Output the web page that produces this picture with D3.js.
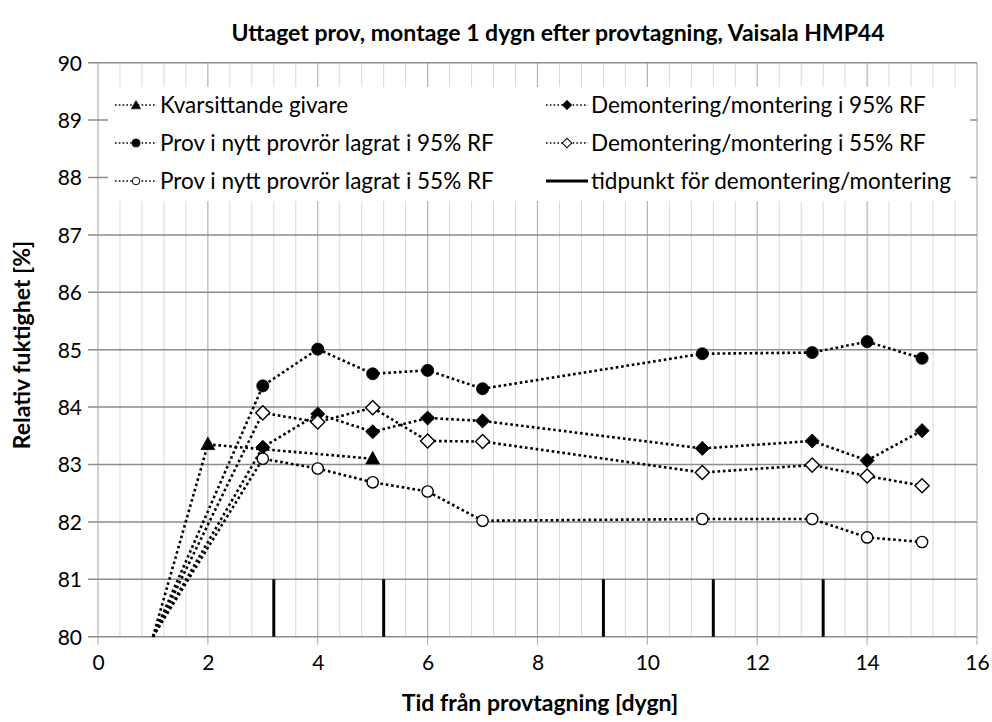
<!DOCTYPE html>
<html>
<head>
<meta charset="utf-8">
<script src="https://cdn.jsdelivr.net/npm/d3@7"></script>
<style>
  html, body { margin: 0; padding: 0; background: #fff; }
  svg { display: block; }
  text { font-family: Lato, "Open Sans", "DejaVu Sans", sans-serif; fill: #000; }
</style>
</head>
<body>
<svg id="chart" width="992" height="722"></svg>
<script>
// Relative humidity readings per day after sampling (dygn)
const kvarsittandeDays = [1, 2, 5];
const kvarsittandeRH   = [80, 83.35, 83.1];

const sampleDays = [1, 3, 4, 5, 6, 7, 11, 13, 14, 15];
const demont95RH = [80, 83.30, 83.88, 83.57, 83.81, 83.76, 83.28, 83.41, 83.07, 83.59];
const prov95RH   = [80, 84.37, 85.01, 84.58, 84.64, 84.32, 84.93, 84.95, 85.14, 84.85];
const demont55RH = [80, 83.90, 83.74, 83.99, 83.41, 83.40, 82.86, 82.99, 82.80, 82.63];
const prov55RH   = [80, 83.10, 82.93, 82.69, 82.53, 82.02, 82.05, 82.05, 81.73, 81.65];

// Times of removal / remounting, drawn as short bars between these RH levels
const remountDays = [3.2, 5.2, 9.2, 11.2, 13.2];
const remountFrom = 80;
const remountTo = 81;

const xTicks = [0, 2, 4, 6, 8, 10, 12, 14, 16];
const yTicks = [80, 81, 82, 83, 84, 85, 86, 87, 88, 89, 90];

const titleText = "Uttaget prov, montage 1 dygn efter provtagning, Vaisala HMP44";
const xTitle = "Tid från provtagning [dygn]";
const yTitle = "Relativ fuktighet [%]";

const svg = d3.select("#chart");
const x = d3.scaleLinear().domain([0, 16]).range([98, 977]);
const y = d3.scaleLinear().domain([80, 90]).range([636.7, 62.7]);

// Grid
const grid = svg.append("g");
grid.selectAll("line.minor").data(d3.range(0, 16.001, 0.4).filter(v => Math.abs(v / 2 - Math.round(v / 2)) > 1e-6))
  .join("line")
  .attr("x1", d => x(d)).attr("x2", d => x(d))
  .attr("y1", y(80)).attr("y2", y(90))
  .attr("stroke", "#d9d9d9").attr("stroke-width", 1);
grid.selectAll("line.vmajor").data(xTicks)
  .join("line")
  .attr("x1", d => x(d)).attr("x2", d => x(d))
  .attr("y1", y(90)).attr("y2", y(80) + 8)
  .attr("stroke", "#b3b3b3").attr("stroke-width", 1.2);
grid.selectAll("line.hmajor").data(yTicks)
  .join("line")
  .attr("x1", x(0) - 10).attr("x2", x(16))
  .attr("y1", d => y(d)).attr("y2", d => y(d))
  .attr("stroke", "#8c8c8c").attr("stroke-width", 1.5);

// Axis labels via d3 axes (lines hidden, grid drawn above)
const yAxis = svg.append("g")
  .attr("transform", `translate(${x(0) - 16},0)`)
  .call(d3.axisLeft(y).tickValues(yTicks).tickSize(0).tickPadding(0));
yAxis.select(".domain").remove();
yAxis.selectAll("text").attr("font-size", 21).attr("font-family", "Lato").attr("fill", "#000").attr("dy", "0.35em");

const xAxis = svg.append("g")
  .attr("transform", `translate(0,${y(80) + 16})`)
  .call(d3.axisBottom(x).tickValues(xTicks).tickSize(0).tickPadding(0));
xAxis.select(".domain").remove();
xAxis.selectAll("text").attr("font-size", 21).attr("font-family", "Lato").attr("fill", "#000").attr("dy", "0.8em");

// Series
const series = [
  { name: "Kvarsittande givare", days: kvarsittandeDays, vals: kvarsittandeRH, shape: "triangle", fill: "#000" },
  { name: "Demontering/montering i 95% RF", days: sampleDays, vals: demont95RH, shape: "diamond", fill: "#000" },
  { name: "Prov i nytt provrör lagrat i 95% RF", days: sampleDays, vals: prov95RH, shape: "circle", fill: "#000" },
  { name: "Demontering/montering i 55% RF", days: sampleDays, vals: demont55RH, shape: "diamond", fill: "#fff" },
  { name: "Prov i nytt provrör lagrat i 55% RF", days: sampleDays, vals: prov55RH, shape: "circle", fill: "#fff" }
];

function drawMarker(g, s, scale) {
  let path;
  if (s.shape === "circle") path = d3.symbol(d3.symbolCircle, (s.fill === "#000" ? 115 : 100) * scale)();
  else if (s.shape === "triangle") path = d3.symbol(d3.symbolTriangle, 82 * scale)();
  else path = d3.symbol(d3.symbolSquare, 100 * scale)();
  const p = g.append("path").attr("d", path)
    .attr("fill", s.fill)
    .attr("stroke", "#000")
    .attr("stroke-width", s.fill === "#fff" ? 1.4 : 0.8);
  if (s.shape === "diamond") p.attr("transform", "rotate(45)");
  if (s.shape === "triangle") p.attr("transform", "translate(0,1) scale(1,1.05)");
  return p;
}

const line = d3.line().x(d => x(d[0])).y(d => y(d[1]));
const plot = svg.append("g");
series.forEach(s => {
  const pts = s.days.map((d, i) => [d, s.vals[i]]);
  plot.append("path").datum(pts)
    .attr("d", line)
    .attr("fill", "none")
    .attr("stroke", "#000")
    .attr("stroke-width", 2.6)
    .attr("stroke-dasharray", "2.6 2.8");
});
series.forEach(s => {
  // the day-1 anchor sits on the axis floor and carries no marker
  const pts = s.days.map((d, i) => [d, s.vals[i]]).filter(p => p[1] > 80);
  pts.forEach(p => {
    const g = plot.append("g").attr("transform", `translate(${x(p[0])},${y(p[1])})`);
    drawMarker(g, s, 1);
  });
});

// Removal / remount bars
plot.selectAll("line.remount").data(remountDays)
  .join("line")
  .attr("x1", d => x(d)).attr("x2", d => x(d))
  .attr("y1", y(remountFrom)).attr("y2", y(remountTo))
  .attr("stroke", "#000").attr("stroke-width", 3);

// Legend
const legend = svg.append("g");
legend.append("rect").attr("x", 108).attr("y", 87).attr("width", 862).attr("height", 114).attr("fill", "#fff");
const legendItems = [
  { s: series[0], col: 0, row: 0 },
  { s: series[2], col: 0, row: 1 },
  { s: series[4], col: 0, row: 2 },
  { s: series[1], col: 1, row: 0 },
  { s: series[3], col: 1, row: 1 },
  { s: { name: "tidpunkt för demontering/montering", shape: "bar" }, col: 1, row: 2 }
];
const colX = [160, 591];
const rowY = [105, 143, 181];
legendItems.forEach(it => {
  const tx = colX[it.col], ty = rowY[it.row];
  const g = legend.append("g");
  if (it.s.shape === "bar") {
    g.append("line").attr("x1", tx - 45).attr("x2", tx - 3).attr("y1", ty).attr("y2", ty)
      .attr("stroke", "#000").attr("stroke-width", 3);
  } else {
    g.append("line").attr("x1", tx - 45).attr("x2", tx - 3).attr("y1", ty).attr("y2", ty)
      .attr("stroke", "#000").attr("stroke-width", 1.6).attr("stroke-dasharray", "1.6 2.2");
    const mg = g.append("g").attr("transform", `translate(${tx - 24},${ty})`);
    drawMarker(mg, it.s, 0.45).attr("stroke-width", it.s.fill === "#fff" ? 1 : 0.6);
  }
  g.append("text").attr("x", tx).attr("y", ty).attr("dy", "0.35em")
    .attr("font-size", 22.5).text(it.s.name);
});

// Titles
svg.append("text").attr("x", 558).attr("y", 33).attr("dy", "0.35em")
  .attr("text-anchor", "middle").attr("font-size", 23).attr("font-weight", "bold").text(titleText);
svg.append("text").attr("x", 540).attr("y", 703).attr("dy", "0.35em")
  .attr("text-anchor", "middle").attr("font-size", 23).attr("font-weight", "bold").text(xTitle);
svg.append("text").attr("transform", `translate(22,345) rotate(-90)`).attr("dy", "0.35em")
  .attr("text-anchor", "middle").attr("font-size", 23).attr("font-weight", "bold").text(yTitle);
</script>
</body>
</html>
